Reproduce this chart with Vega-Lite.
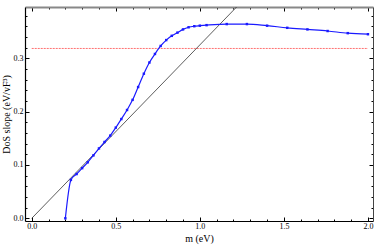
{
  "$schema": "https://vega.github.io/schema/vega-lite/v6.json",
  "width": 348,
  "height": 214,
  "autosize": {"type": "none"},
  "padding": {"left": 25, "top": 7, "right": 1, "bottom": 26},
  "config": {
    "view": {"stroke": null},
    "font": "Liberation Serif",
    "axis": {"labelFont": "Liberation Serif", "titleFont": "Liberation Serif", "grid": false, "labelFontSize": 8, "titleFontSize": 10, "titleFontWeight": "normal", "labelColor": "#000", "titleColor": "#000", "tickColor": "#000", "domainColor": "#000"}
  },
  "datasets": {
    "curve": [
      {"m": 0.2, "slope": 0.0},
      {"m": 0.233, "slope": 0.072},
      {"m": 0.267, "slope": 0.083},
      {"m": 0.3, "slope": 0.094},
      {"m": 0.333, "slope": 0.105},
      {"m": 0.367, "slope": 0.118},
      {"m": 0.4, "slope": 0.131},
      {"m": 0.433, "slope": 0.143},
      {"m": 0.467, "slope": 0.155},
      {"m": 0.5, "slope": 0.17},
      {"m": 0.533, "slope": 0.186},
      {"m": 0.567, "slope": 0.203},
      {"m": 0.6, "slope": 0.222},
      {"m": 0.633, "slope": 0.246},
      {"m": 0.667, "slope": 0.271},
      {"m": 0.7, "slope": 0.292},
      {"m": 0.733, "slope": 0.308},
      {"m": 0.767, "slope": 0.323},
      {"m": 0.8, "slope": 0.334},
      {"m": 0.833, "slope": 0.342},
      {"m": 0.867, "slope": 0.348},
      {"m": 0.9, "slope": 0.354},
      {"m": 0.933, "slope": 0.358},
      {"m": 0.967, "slope": 0.36},
      {"m": 1.0, "slope": 0.361},
      {"m": 1.04, "slope": 0.362},
      {"m": 1.16, "slope": 0.364},
      {"m": 1.28, "slope": 0.364},
      {"m": 1.4, "slope": 0.361},
      {"m": 1.52, "slope": 0.357},
      {"m": 1.64, "slope": 0.354},
      {"m": 1.76, "slope": 0.351},
      {"m": 1.88, "slope": 0.347},
      {"m": 2.0, "slope": 0.345}
    ],
    "diag": [
      {"m": 0.0, "slope": 0.0},
      {"m": 1.3, "slope": 0.4225}
    ],
    "ref": [
      {"m": 0.0, "slope": 0.3183},
      {"m": 2.0, "slope": 0.3183}
    ]
  },
  "layer": [
    {
      "data": {"name": "ref"},
      "mark": {"type": "line", "color": "#ff7070", "strokeWidth": 1, "strokeDash": [2, 1]},
      "encoding": {
        "x": {"field": "m", "type": "quantitative", "scale": {"domain": [-0.04, 2.03], "nice": false, "zero": false}, "axis": null},
        "y": {"field": "slope", "type": "quantitative", "scale": {"domain": [-0.005, 0.396], "nice": false, "zero": false}, "axis": null}
      }
    },
    {
      "data": {"name": "diag"},
      "mark": {"type": "line", "color": "#333", "strokeWidth": 0.8, "clip": true},
      "encoding": {
        "x": {"field": "m", "type": "quantitative", "axis": {
          "orient": "top", "title": null, "labels": false,
          "values": [0, 0.1, 0.2, 0.3, 0.4, 0.5, 0.6, 0.7, 0.8, 0.9, 1.0, 1.1, 1.2, 1.3, 1.4, 1.5, 1.6, 1.7, 1.8, 1.9, 2.0],
          "tickSize": {"condition": {"test": "abs(datum.value*2 - round(datum.value*2)) < 1e-6", "value": -4}, "value": -2},
          "domainColor": "#888", "domainWidth": 2
        }},
        "y": {"field": "slope", "type": "quantitative", "axis": {
          "orient": "right", "title": null, "labels": false,
          "values": [0, 0.02, 0.04, 0.06, 0.08, 0.1, 0.12, 0.14, 0.16, 0.18, 0.2, 0.22, 0.24, 0.26, 0.28, 0.3, 0.32, 0.34, 0.36, 0.38],
          "tickSize": {"condition": {"test": "abs(datum.value*10 - round(datum.value*10)) < 1e-6", "value": -4}, "value": -2},
          "domainColor": "#444", "domainWidth": 1
        }}
      }
    },
    {
      "data": {"name": "curve"},
      "mark": {"type": "line", "color": "#1a1aff", "strokeWidth": 1.2, "interpolate": "monotone", "point": {"shape": "square", "size": 6, "filled": true, "color": "#1a1aff"}},
      "encoding": {
        "x": {"field": "m", "type": "quantitative", "title": "m (eV)", "axis": {
          "orient": "bottom",
          "values": [0, 0.1, 0.2, 0.3, 0.4, 0.5, 0.6, 0.7, 0.8, 0.9, 1.0, 1.1, 1.2, 1.3, 1.4, 1.5, 1.6, 1.7, 1.8, 1.9, 2.0],
          "labelExpr": "abs(datum.value*2 - round(datum.value*2)) < 1e-6 ? format(datum.value, '.1f') : ''",
          "labelOverlap": false, "labelFlush": false, "labelPadding": 5,
          "tickSize": {"condition": {"test": "abs(datum.value*2 - round(datum.value*2)) < 1e-6", "value": -4}, "value": -2},
          "domainWidth": 1.2, "titlePadding": 1
        }},
        "y": {"field": "slope", "type": "quantitative", "title": "DoS slope (eV/vF³)", "axis": {
          "orient": "left",
          "values": [0, 0.02, 0.04, 0.06, 0.08, 0.1, 0.12, 0.14, 0.16, 0.18, 0.2, 0.22, 0.24, 0.26, 0.28, 0.3, 0.32, 0.34, 0.36, 0.38],
          "labelExpr": "abs(datum.value*10 - round(datum.value*10)) < 1e-6 ? format(datum.value, '.1f') : ''",
          "labelOverlap": false, "labelFlush": false, "labelPadding": 6,
          "tickSize": {"condition": {"test": "abs(datum.value*10 - round(datum.value*10)) < 1e-6", "value": -4}, "value": -2},
          "domainWidth": 1.2, "titlePadding": 2
        }}
      }
    }
  ],
  "resolve": {"axis": {"x": "independent", "y": "independent"}}
}
